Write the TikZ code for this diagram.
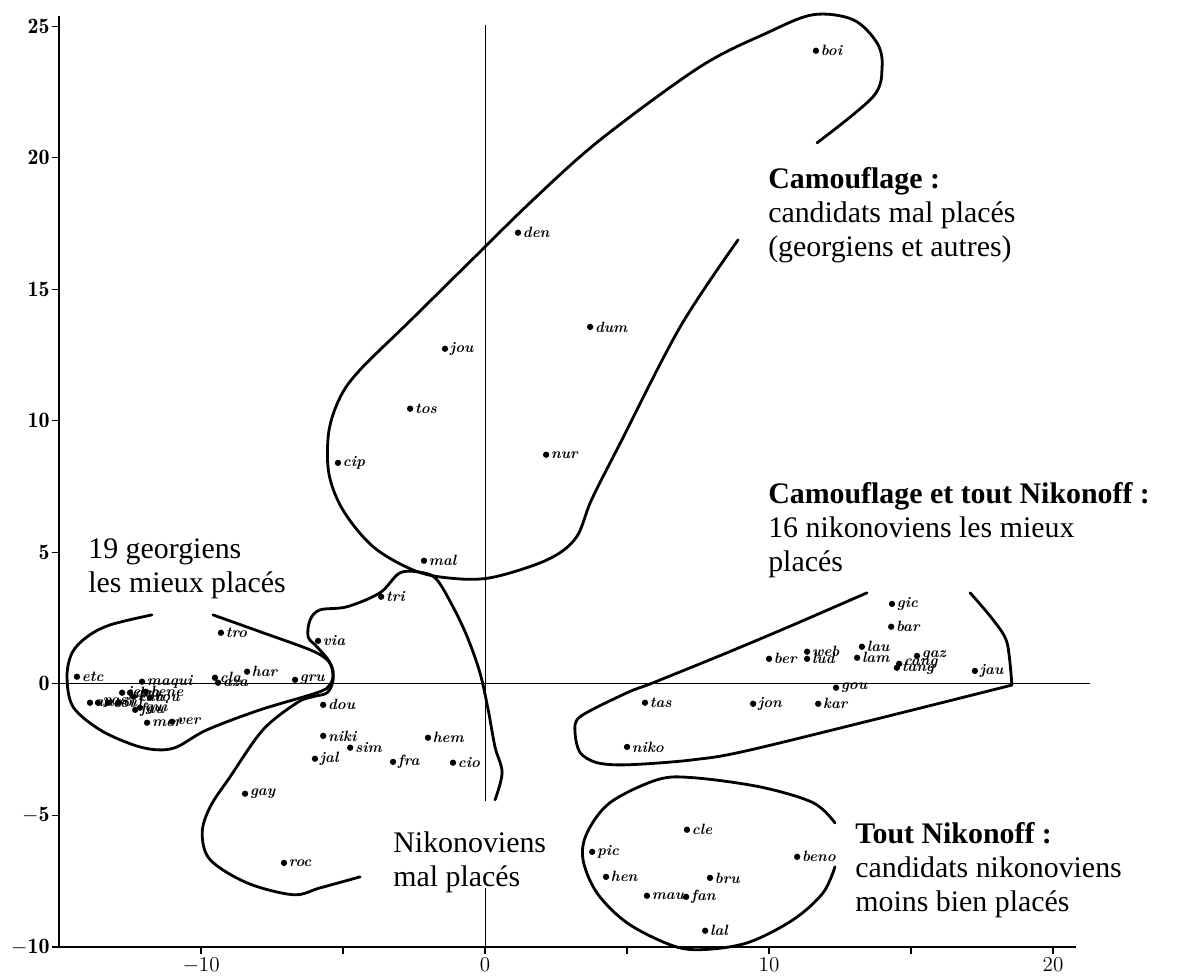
\documentclass[tikz,border=0pt]{standalone}
\usepackage{fontspec}
\newfontfamily\notefont{Liberation Serif}
\tikzset{
  pt/.style={circle,fill,inner sep=0pt,minimum size=3.6pt},
  lab/.style={inner sep=0.6pt,font=\fontsize{8.5}{9}\selectfont\bfseries\itshape},
  note/.style={anchor=base west,align=left,inner sep=0pt,font=\notefont\fontsize{17}{19.5}\selectfont},
  zone/.style={line width=1.6pt,line cap=round,line join=round},
}
\begin{document}
\begin{tikzpicture}[x=0.568cm,y=0.526cm]
\useasboundingbox (-17.08,-11.10) rectangle (24.47,26.0);
% axes
\draw[line width=1.1pt] (-15,25.4) -- (-15,-10) -- (20.8,-10);
\draw[line width=0.5pt] (-15,0) -- (21.3,0);
\draw[line width=0.5pt] (0,25.06) -- (0,-4.45); \draw[line width=0.5pt] (0,-7.76) -- (0,-10);
\foreach \y in {-10,-5,...,25} \draw[line width=0.8pt] (-15,\y) -- (-15.25,\y) node[left,inner sep=1pt,font=\fontsize{12.5}{13}\selectfont] {$\mathbf{\y}$};
\foreach \x in {-10,-5,...,20} \draw[line width=0.8pt] (\x,-10) -- (\x,-10.28);
\foreach \x in {-10,0,10,20} \node[below,inner sep=2pt,font=\fontsize{12}{13}\selectfont] at (\x,-10.28) {$\x$};

% points
\foreach \x/\y/\n in {11.65/24.07/boi,1.16/17.15/den,3.70/13.57/dum,-1.41/12.74/jou,-2.64/10.46/tos,
    -5.18/8.40/cip,2.15/8.71/nur,-2.15/4.68/mal}
  \node[pt,label={[lab]right:\n}] (\n) at (\x,\y) {};
\foreach \x/\y/\n in {-3.66/3.31/tri,-5.88/1.63/via,-6.69/0.15/gru,-5.70/-0.80/dou,-5.70/-1.98/niki,
    -4.75/-2.43/sim,-5.99/-2.85/jal,-3.24/-2.97/fra,-2.01/-2.05/hem,-1.13/-3.00/cio,-8.45/-4.18/gay,-7.08/-6.81/roc}
  \node[pt,label={[lab]right:\n}] (\n) at (\x,\y) {};
\foreach \x/\y/\n in {-9.30/1.94/tro,-8.38/0.46/har,-9.51/0.23/cla,-9.40/0.04/aza,-14.37/0.27/etc,-12.08/0.08/maqui,
    -12.78/-0.34/jea,-12.50/-0.34/dea,-11.95/-0.30/bene,-12.39/-0.49/cha,-11.80/-0.53/rou,-13.91/-0.72/ano,
    -13.63/-0.72/pas,-13.27/-0.72/coi,-12.92/-0.72/oif,-12.32/-0.99/fau,-12.15/-0.91/gui,-11.90/-1.48/mer,-11.02/-1.44/ver}
  \node[pt,label={[lab]right:\n}] (\n) at (\x,\y) {};
\foreach \x/\y/\n in {14.33/3.04/gic,14.30/2.17/bar,11.34/1.22/web,13.27/1.41/lau,10.0/0.95/ber,11.34/0.95/lud,
    13.10/0.99/lam,15.21/1.06/gaz,14.58/0.76/cang,14.50/0.61/tang,17.25/0.49/jau,12.36/-0.15/gou,
    5.63/-0.72/tas,9.44/-0.76/jon,11.73/-0.76/kar,5.0/-2.40/niko}
  \node[pt,label={[lab]right:\n}] (\n) at (\x,\y) {};
\foreach \x/\y/\n in {7.11/-5.55/cle,3.77/-6.39/pic,10.99/-6.58/beno,4.26/-7.34/hen,7.92/-7.38/bru,
    5.70/-8.06/mau,7.08/-8.10/fan,7.75/-9.39/lal}
  \node[pt,label={[lab]right:\n}] (\n) at (\x,\y) {};

% zones
\draw[zone] plot[smooth,tension=0.55] coordinates {(11.69,20.57) (13.66,22.32) (13.98,23.46) (13.80,24.37)
  (12.96,25.25) (11.55,25.44) (9.93,24.75) (7.57,23.46) (4.05,20.68) (1.69,18.40) (-0.53,16.05) (-2.64,13.80)
  (-4.40,11.94) (-5.10,10.90) (-5.50,9.60) (-5.50,8.00) (-5.00,6.60) (-3.94,5.21) (-2.54,4.33) (-1.34,4.03)
  (0.18,4.03) (2.18,4.71) (3.20,5.55) (3.75,7.00) (4.75,9.13) (6.87,13.57) (8.91,16.88)};
\draw[zone] plot[smooth,tension=0.55] coordinates {(-11.73,2.62) (-13.20,2.24) (-14.01,1.79) (-14.54,1.18)
  (-14.72,0.27) (-14.51,-0.87) (-13.56,-1.75) (-12.39,-2.32) (-11.55,-2.51) (-10.85,-2.40) (-9.79,-1.75)
  (-7.92,-0.99) (-5.92,-0.34) (-5.46,-0.04) (-5.35,0.46) (-5.56,0.91) (-6.16,1.29) (-7.92,1.98) (-9.58,2.62)};
\draw[zone] plot[smooth,tension=0.55] coordinates {(-4.40,-7.34) (-5.81,-7.76) (-6.76,-8.02) (-8.38,-7.57)
  (-9.68,-6.69) (-9.96,-5.67) (-9.68,-4.68) (-8.98,-3.54) (-7.82,-1.75) (-6.62,-0.72) (-6.06,-0.49)
  (-5.56,-0.34) (-5.35,0.15) (-5.46,0.80) (-5.92,1.41) (-6.23,1.79) (-6.16,2.43) (-5.81,2.81) (-4.86,2.93)
  (-3.70,3.46) (-2.99,4.22) (-2.18,4.22) (-1.69,3.95) (-1.13,2.93) (-0.63,1.79) (-0.18,0.42) (0.11,-0.99)
  (0.35,-2.40) (0.60,-3.38) (0.35,-4.41)};
\draw[zone] plot[smooth,tension=0.5] coordinates {(13.45,3.46) (10.85,2.24) (8.52,1.18) (5.92,0.04) (5.0,-0.34)
  (3.35,-1.25) (3.17,-1.86) (3.35,-2.62) (3.94,-3.00) (5.0,-3.08) (7.32,-2.89) (9.68,-2.43) (18.55,-0.05)};
\draw[zone] plot[smooth,tension=0.5] coordinates {(18.55,-0.05) (18.38,1.56) (17.89,2.43) (17.08,3.46)};
\draw[zone] plot[smooth,tension=0.55] coordinates {(12.32,-5.29) (11.55,-4.52) (9.68,-3.92) (7.32,-3.57)
  (6.06,-3.65) (4.40,-4.52) (3.59,-5.67) (3.45,-6.69) (3.94,-7.95) (5.0,-9.09) (6.51,-9.92) (7.57,-10.11)
  (9.23,-9.85) (10.85,-8.97) (11.90,-7.95) (12.32,-6.96)};

% notes (anchored on the last line)
\node[note] (camo) at (9.96,16.24) {\textbf{Camouflage :}\\candidats mal placés\\(georgiens et autres)};
\node[note] (camonik) at (9.96,4.26) {\textbf{Camouflage et tout Nikonoff :}\\16 nikonoviens les mieux\\placés};
\node[note] (toutnik) at (13.03,-8.67) {\textbf{Tout Nikonoff :}\\candidats nikonoviens\\moins bien placés};
\node[note] (nikmal) at (-3.24,-7.72) {Nikonoviens\\mal placés};
\node[note] (georg) at (-13.98,3.46) {19 georgiens\\les mieux placés};
\end{tikzpicture}
\end{document}
